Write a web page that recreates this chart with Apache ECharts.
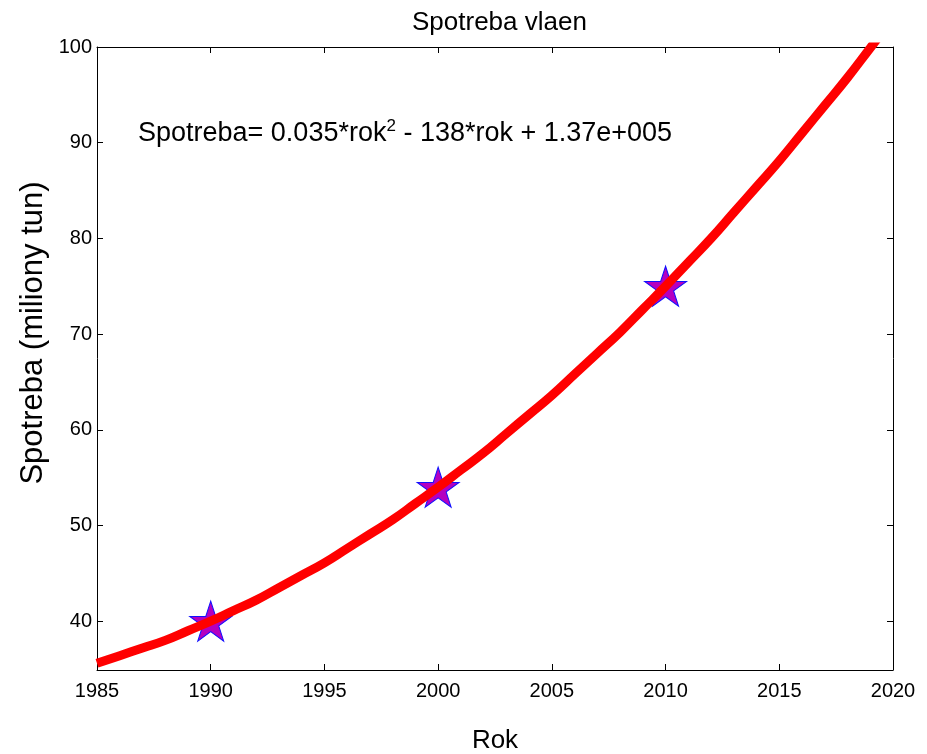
<!DOCTYPE html>
<html>
<head>
<meta charset="utf-8">
<script src="https://cdn.jsdelivr.net/npm/echarts@6/dist/echarts.min.js"></script>
<style>
  html, body { margin: 0; padding: 0; background: #fff; }
  #chart { width: 927px; height: 754px; }
</style>
</head>
<body>
<div id="chart"></div>
<script>
// fitted curve
let years = [1985, 1986, 1987, 1988, 1989, 1990, 1991, 1992, 1993, 1994, 1995, 1996,
    1997, 1998, 1999, 2000, 2001, 2002, 2003, 2004, 2005, 2006, 2007, 2008, 2009,
    2010, 2011, 2012, 2013, 2014, 2015, 2016, 2017, 2018, 2019, 2020];
let fitValues = [35.6, 36.4, 37.2, 38.0, 39.0, 40.0, 41.1, 42.2, 43.5, 44.8, 46.1, 47.6,
    49.1, 50.6, 52.3, 54.0, 55.8, 57.6, 59.6, 61.6, 63.6, 65.8, 68.0, 70.2, 72.6,
    75.0, 77.5, 80.0, 82.7, 85.4, 88.1, 91.0, 93.9, 96.8, 99.9, 103.0];

// measured points (stars)
let pointYears = [1990, 2000, 2010];
let pointValues = [40, 54, 75];

let yTicks = [40, 50, 60, 70, 80, 90, 100];

let starPath = 'path://M50,0 L61.2,34.5 L97.6,34.5 L68.2,55.9 L79.4,90.5 L50,69.1 L20.6,90.5 L31.8,55.9 L2.4,34.5 L38.8,34.5 Z';

let font = 'Arial, "Liberation Sans", Helvetica, sans-serif';

let chart = echarts.init(document.getElementById('chart'), null, { renderer: 'canvas' });

let axisLine = { show: true, onZero: false, lineStyle: { color: '#000', width: 1 } };
let tickIn = { show: true, inside: true, length: 6, lineStyle: { color: '#000' } };

let option = {
    animation: false,
    backgroundColor: '#fff',
    title: {
        text: 'Spotreba vlaen',
        left: 407,
        top: 5,
        textStyle: { fontFamily: font, fontSize: 26, fontWeight: 'normal', color: '#000' }
    },
    grid: { left: 97, right: 34, top: 47, bottom: 84, outerBoundsMode: 'none', containLabel: false },
    xAxis: [{
        type: 'value',
        min: 1985,
        max: 2020,
        interval: 5,
        name: 'Rok',
        nameLocation: 'middle',
        nameGap: 58,
        nameTextStyle: { fontFamily: font, fontSize: 26, color: '#000' },
        axisLine: axisLine,
        axisTick: tickIn,
        axisLabel: { fontFamily: font, fontSize: 20, color: '#000', margin: 11, formatter: v => String(v) },
        splitLine: { show: false }
    }, {
        type: 'value',
        position: 'top',
        min: 1985,
        max: 2020,
        interval: 5,
        axisLine: axisLine,
        axisTick: tickIn,
        axisLabel: { show: false },
        splitLine: { show: false }
    }],
    yAxis: [{
        type: 'value',
        min: 34.9,
        max: 100,
        axisLine: axisLine,
        axisTick: Object.assign({ customValues: yTicks }, tickIn),
        axisLabel: { fontFamily: font, fontSize: 20, color: '#000', margin: 5, customValues: yTicks },
        splitLine: { show: false }
    }, {
        type: 'value',
        position: 'right',
        min: 34.9,
        max: 100,
        axisLine: axisLine,
        axisTick: Object.assign({ customValues: yTicks }, tickIn),
        axisLabel: { show: false },
        splitLine: { show: false }
    }],
    graphic: [{
        type: 'text',
        left: 138,
        top: 118,
        style: {
            text: 'Spotreba= 0.035*rok{sup|2} - 138*rok + 1.37e+005',
            fontFamily: font,
            fontSize: 27,
            fill: '#000',
            rich: {
                sup: { fontFamily: font, fontSize: 17, verticalAlign: 'top', padding: [0, 0, 14, 0] }
            }
        }
    }, {
        // y axis title, placed like the original (not centred on the axis)
        type: 'text',
        x: 33,
        y: 333,
        rotation: Math.PI / 2,
        style: {
            text: 'Spotreba (miliony tun)',
            fontFamily: font,
            fontSize: 31,
            fill: '#000',
            align: 'center',
            verticalAlign: 'middle'
        }
    }],
    series: [{
        name: 'body',
        type: 'scatter',
        data: pointYears.map((y, i) => [y, pointValues[i]]),
        symbol: starPath,
        symbolSize: [42, 40],
        itemStyle: { color: '#b400c0', borderColor: '#1010ff', borderWidth: 1, opacity: 1 },
        z: 2
    }, {
        name: 'fit',
        type: 'line',
        data: years.map((y, i) => [y, fitValues[i]]),
        smooth: true,
        showSymbol: false,
        clip: true,
        lineStyle: { color: '#ff0000', width: 9 },
        z: 3
    }]
};

chart.setOption(option);
</script>
</body>
</html>
